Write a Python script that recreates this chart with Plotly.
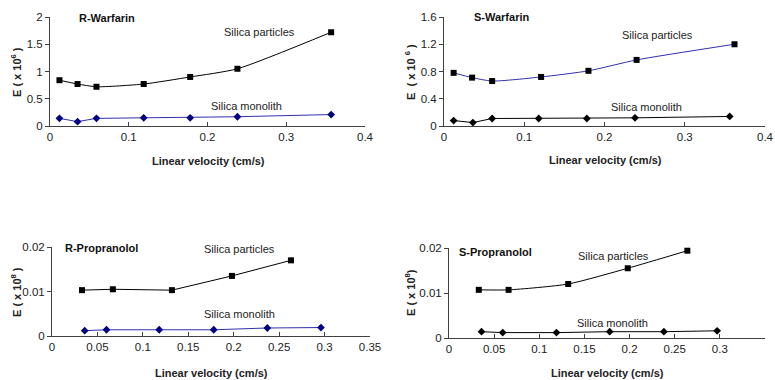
import plotly.graph_objects as go

W, H = 775, 380
ML, MR, MT, MB = 30, 8, 8, 4

# ---- data ----
rw_part_x = [0.012, 0.035, 0.059, 0.119, 0.178, 0.238, 0.357]
rw_part_y = [0.84, 0.77, 0.72, 0.77, 0.90, 1.05, 1.72]
rw_mono_x = [0.012, 0.035, 0.059, 0.119, 0.178, 0.238, 0.357]
rw_mono_y = [0.14, 0.08, 0.14, 0.15, 0.15, 0.17, 0.21]

sw_part_x = [0.012, 0.035, 0.060, 0.121, 0.180, 0.240, 0.362]
sw_part_y = [0.78, 0.71, 0.66, 0.72, 0.81, 0.97, 1.20]
sw_mono_x = [0.012, 0.036, 0.060, 0.118, 0.178, 0.238, 0.356]
sw_mono_y = [0.08, 0.05, 0.11, 0.11, 0.11, 0.12, 0.14]

rp_part_x = [0.033, 0.067, 0.132, 0.198, 0.263]
rp_part_y = [0.0103, 0.0105, 0.0103, 0.0135, 0.0170]
rp_mono_x = [0.036, 0.060, 0.118, 0.178, 0.237, 0.296]
rp_mono_y = [0.0012, 0.0014, 0.0014, 0.0014, 0.0018, 0.0019]

sp_part_x = [0.033, 0.066, 0.132, 0.198, 0.264]
sp_part_y = [0.0107, 0.0107, 0.0120, 0.0155, 0.0194]
sp_mono_x = [0.036, 0.0595, 0.119, 0.178, 0.238, 0.297]
sp_mono_y = [0.0014, 0.0012, 0.0012, 0.0014, 0.0014, 0.0016]

warf_x_ticks = [0, 0.1, 0.2, 0.3, 0.4]
prop_x_ticks = [0, 0.05, 0.1, 0.15, 0.2, 0.25, 0.3, 0.35]
rw_y_ticks = [0, 0.5, 1, 1.5, 2]
sw_y_ticks = [0, 0.4, 0.8, 1.2, 1.6]
prop_y_ticks = [0, 0.01, 0.02]

titles = ["R-Warfarin", "S-Warfarin", "R-Propranolol", "S-Propranolol"]
x_title = "Linear velocity (cm/s)"
y_titles = ["E ( x 10<sup>6</sup> )", "E  ( x 10 <sup>6</sup> )",
            "E ( x 10<sup>8</sup> )", "E ( x 10<sup>8</sup>)"]

BLACK = "#000000"
BLUE = "#3030b0"
NAVY = "#000080"
FONT = "Liberation Sans, Arial, sans-serif"
TXT = "#222222"

PW = W - ML - MR
PH = H - MT - MB

def px(x):
    return (x - ML) / PW

def py(y):
    return 1 - (y - MT) / PH

# panel pixel boxes: (x0, x1, ytop, ybottom)
boxes = [(50, 365, 17, 126), (444, 765, 17, 126), (52, 370, 247, 336), (449, 765, 248, 338)]

fig = go.Figure()

def add(xs, ys, n, line_col, mk_col, symbol, size, shape):
    axn = "" if n == 1 else str(n)
    fig.add_trace(go.Scatter(
        x=xs, y=ys, mode="lines+markers",
        line=dict(color=line_col, width=1, shape=shape, smoothing=0.6),
        marker=dict(color=mk_col, symbol=symbol, size=size),
        xaxis="x" + axn, yaxis="y" + axn, showlegend=False, cliponaxis=False))

add(rw_part_x, rw_part_y, 1, BLACK, BLACK, "square", 6, "spline")
add(rw_mono_x, rw_mono_y, 1, BLUE, NAVY, "diamond", 6, "linear")
add(sw_part_x, sw_part_y, 2, BLUE, BLACK, "square", 6, "spline")
add(sw_mono_x, sw_mono_y, 2, BLACK, BLACK, "diamond", 6, "linear")
add(rp_part_x, rp_part_y, 3, BLACK, BLACK, "square", 6, "linear")
add(rp_mono_x, rp_mono_y, 3, BLUE, NAVY, "diamond", 6, "linear")
add(sp_part_x, sp_part_y, 4, BLACK, BLACK, "square", 6, "spline")
add(sp_mono_x, sp_mono_y, 4, BLACK, BLACK, "diamond", 6, "linear")

xranges = [[0, 0.4], [0, 0.4], [0, 0.35], [0, 0.35]]
yranges = [[0, 2], [0, 1.6], [0, 0.02], [0, 0.02]]
xticks = [warf_x_ticks, warf_x_ticks, prop_x_ticks, prop_x_ticks]
yticks = [rw_y_ticks, sw_y_ticks, prop_y_ticks, prop_y_ticks]

layout = dict(
    width=W, height=H, margin=dict(l=ML, r=MR, t=MT, b=MB),
    paper_bgcolor="white", plot_bgcolor="white",
    font=dict(family=FONT, size=11, color=TXT),
)
annotations = []
for i, (x0, x1, yt, yb) in enumerate(boxes):
    n = i + 1
    axn = "" if n == 1 else str(n)
    xtxt = [("%g" % v) for v in xticks[i]]
    ytxt = [("%g" % v) for v in yticks[i]]
    layout["xaxis" + axn] = dict(
        domain=[px(x0), px(x1)], range=xranges[i], anchor="y" + axn, automargin=False,
        tickmode="array", tickvals=xticks[i], ticktext=xtxt,
        showgrid=False, zeroline=False, showline=True, linecolor="#404040", linewidth=1,
        ticks="inside", ticklen=4, tickcolor="#404040",
        tickfont=dict(size=11.5, color=TXT))
    layout["yaxis" + axn] = dict(
        domain=[py(yb), py(yt)], range=yranges[i], anchor="x" + axn, automargin=False,
        tickmode="array", tickvals=yticks[i], ticktext=ytxt,
        showgrid=False, zeroline=False, showline=True, linecolor="#404040", linewidth=1,
        ticks="outside", ticklen=4, tickcolor="#404040",
        tickfont=dict(size=11.5, color=TXT))

# x-axis titles
for cx, cy in [(208, 161), (605, 160), (211, 373), (607, 373)]:
    annotations.append(dict(text="<b>%s</b>" % x_title, x=px(cx), y=py(cy), xref="paper", yref="paper",
                            showarrow=False, xanchor="center", yanchor="middle", font=dict(size=11, color=TXT)))
# y-axis titles
for (cx, cy), t in zip([(16, 72), (410, 72), (16, 292), (410, 293)], y_titles):
    annotations.append(dict(text="<b>%s</b>" % t, x=px(cx), y=py(cy), xref="paper", yref="paper",
                            textangle=-90, showarrow=False, xanchor="center", yanchor="middle",
                            font=dict(size=11, color=TXT)))
# panel titles
for (lx, cy), t in zip([(77, 18), (472, 17), (63, 248), (457, 252)], titles):
    annotations.append(dict(text="<b>%s</b>" % t, x=px(lx), y=py(cy), xref="paper", yref="paper",
                            showarrow=False, xanchor="left", yanchor="middle", font=dict(size=11, color="#111")))
# series labels
labels = [("Silica particles", 259, 32), ("Silica monolith", 246, 106),
          ("Silica particles", 657, 35), ("Silica monolith", 646, 107),
          ("Silica particles", 239, 249), ("Silica monolith", 239, 314),
          ("Silica particles", 613, 256), ("Silica monolith", 612, 323)]
for t, cx, cy in labels:
    annotations.append(dict(text=t, x=px(cx), y=py(cy), xref="paper", yref="paper",
                            showarrow=False, xanchor="center", yanchor="middle", font=dict(size=11, color=TXT)))

layout["annotations"] = annotations
fig.update_layout(**layout)
fig.write_html("out.html", config={"displayModeBar": False},
               post_script="document.body.style.margin='0';document.body.style.overflow='hidden';")
